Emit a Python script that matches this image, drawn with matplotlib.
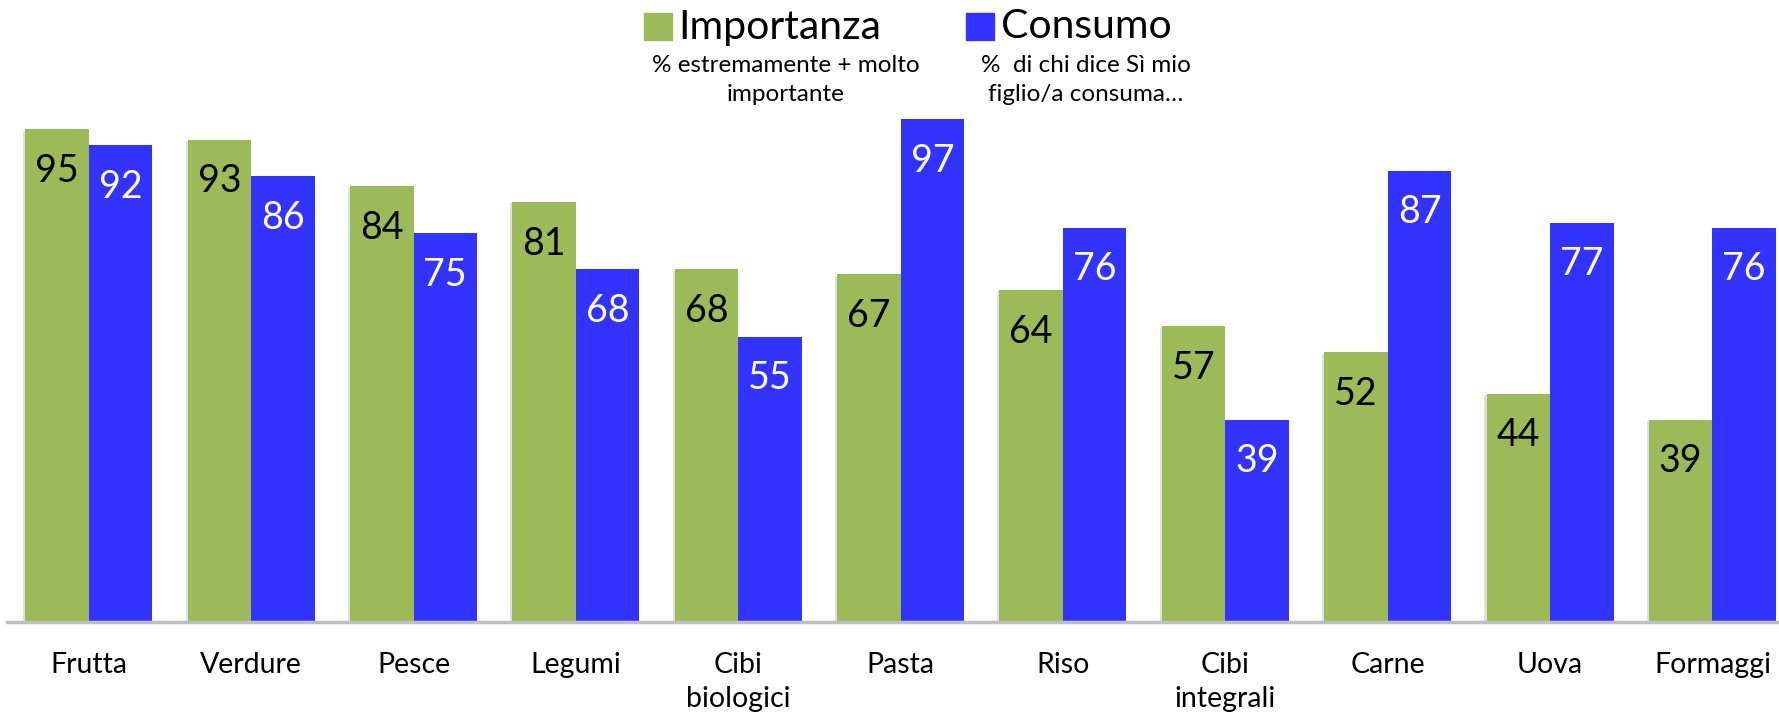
import numpy as np
import matplotlib.pyplot as plt
import matplotlib as mpl
import matplotlib.patheffects as pe
from matplotlib.patches import Rectangle

# data
categories = ['Frutta', 'Verdure', 'Pesce', 'Legumi', 'Cibi\nbiologici', 'Pasta',
              'Riso', 'Cibi\nintegrali', 'Carne', 'Uova', 'Formaggi']
importanza = [95, 93, 84, 81, 68, 67, 64, 57, 52, 44, 39]
consumo = [92, 86, 75, 68, 55, 97, 76, 39, 87, 77, 76]

green = '#9BBB59'
blue = '#3333FF'

mpl.rcParams['font.family'] = ['Lato', 'DejaVu Sans']

fig = plt.figure(figsize=(17.79, 7.18), dpi=100)
ax = fig.add_axes([0.004, 0.134, 0.996, 0.722])

x = np.arange(len(categories))
w = 0.391
shadow = [pe.SimplePatchShadow(offset=(-1.5, -1), alpha=0.15), pe.Normal()]
b1 = ax.bar(x - w / 2, importanza, w, color=green, zorder=2, path_effects=shadow)
b2 = ax.bar(x + w / 2, consumo, w, color=blue, zorder=2)

# value labels inside the bars, near the top
for bars, vals, col in [(b1, importanza, 'black'), (b2, consumo, 'white')]:
    for r, v in zip(bars, vals):
        ax.annotate(str(v), (r.get_x() + r.get_width() / 2, v),
                    xytext=(0, -30), textcoords='offset points',
                    ha='center', va='center', fontsize=27, color=col)

ax.set_xlim(-0.503, 10.41)
ax.set_ylim(0, 100)
ax.set_xticks(x)
ax.set_xticklabels(categories, fontsize=20.5, linespacing=1.35, va='top')
ax.tick_params(axis='x', length=0, pad=22)
ax.set_yticks([])
for s in ['top', 'right', 'left']:
    ax.spines[s].set_visible(False)
ax.spines['bottom'].set_color('#bfbfbf')
ax.spines['bottom'].set_linewidth(2.5)

# legend drawn by hand (squares + titles + subtitles)
W, H = 1779, 718
fig.patches.append(Rectangle((644 / W, 1 - 40 / H), 28 / W, 27 / H,
                             transform=fig.transFigure, color=green))
fig.patches.append(Rectangle((966 / W, 1 - 40 / H), 28 / W, 27 / H,
                             transform=fig.transFigure, color=blue))
fig.text(678 / W, 1 - 27 / H, 'Importanza', fontsize=29.5, va='center', ha='left')
fig.text(1001 / W, 1 - 27 / H, 'Consumo', fontsize=29.5, va='center', ha='left')
fig.text(786 / W, 1 - 80 / H, '% estremamente + molto\nimportante', fontsize=17.5,
         ha='center', va='center', linespacing=1.5)
fig.text(1086 / W, 1 - 80 / H, '%  di chi dice Sì mio\nfiglio/a consuma…', fontsize=17.5,
         ha='center', va='center', linespacing=1.5)

fig.savefig('out.png', dpi=100)
